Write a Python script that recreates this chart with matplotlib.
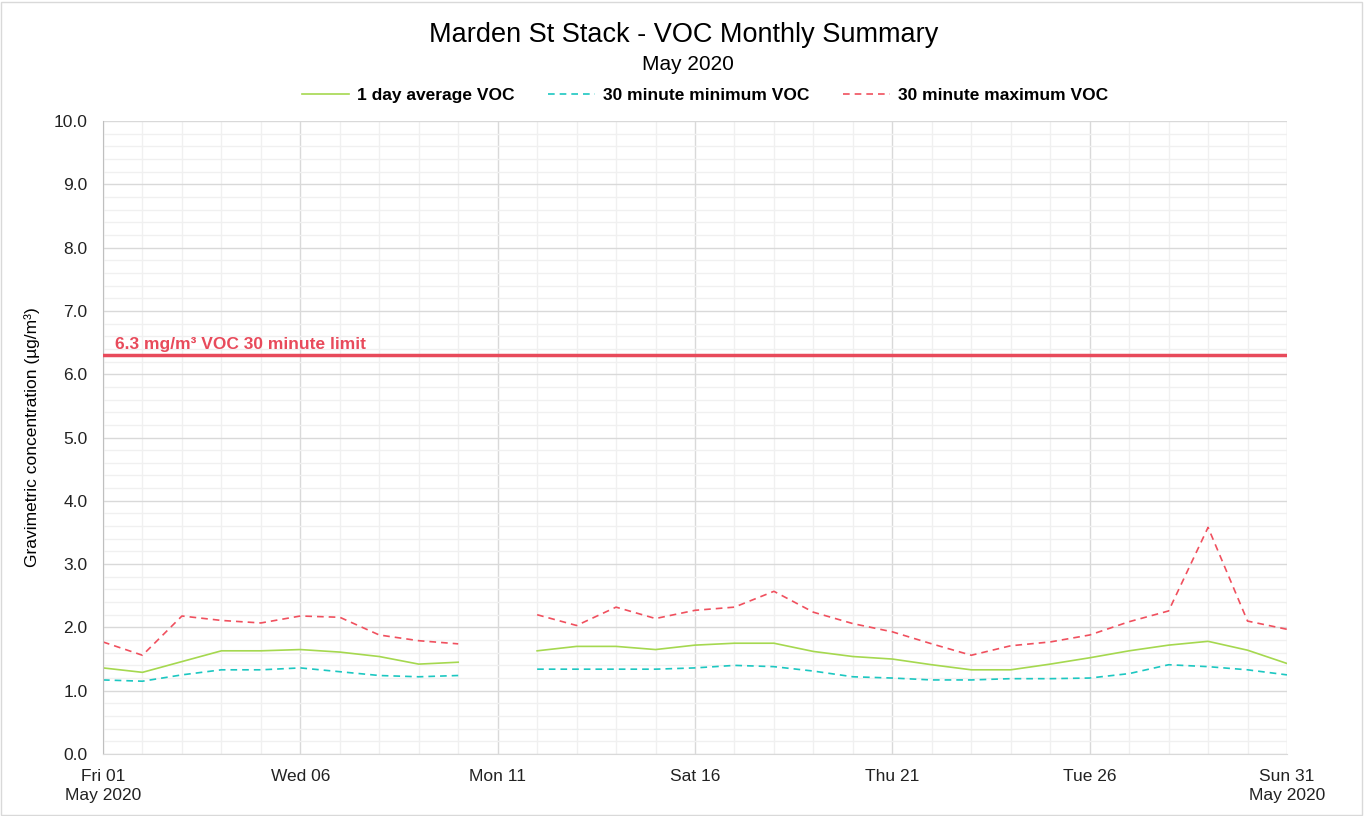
import matplotlib.pyplot as plt
import numpy as np

plt.rcParams['font.family'] = ['Liberation Sans', 'DejaVu Sans']

# days of May 2020, no reading on the 11th
days = np.arange(1, 32)
avg_voc = [1.36, 1.29, 1.46, 1.63, 1.63, 1.65, 1.61, 1.54, 1.42, 1.45, np.nan,
           1.63, 1.70, 1.70, 1.65, 1.72, 1.75, 1.75, 1.62, 1.54, 1.50,
           1.41, 1.33, 1.33, 1.42, 1.52, 1.63, 1.72, 1.78, 1.64, 1.43]
min_voc = [1.17, 1.15, 1.25, 1.33, 1.33, 1.36, 1.30, 1.24, 1.22, 1.24, np.nan,
           1.34, 1.34, 1.34, 1.34, 1.36, 1.40, 1.38, 1.31, 1.22, 1.20,
           1.17, 1.17, 1.19, 1.19, 1.20, 1.27, 1.41, 1.38, 1.33, 1.25]
max_voc = [1.77, 1.56, 2.18, 2.11, 2.07, 2.18, 2.16, 1.88, 1.79, 1.74, np.nan,
           2.20, 2.03, 2.32, 2.14, 2.27, 2.32, 2.57, 2.24, 2.06, 1.93,
           1.74, 1.56, 1.71, 1.77, 1.88, 2.09, 2.26, 3.58, 2.10, 1.97]
limit = 6.3

tick_days = [1, 6, 11, 16, 21, 26, 31]
tick_labels = ['Fri 01\nMay 2020', 'Wed 06', 'Mon 11', 'Sat 16', 'Thu 21',
               'Tue 26', 'Sun 31\nMay 2020']

fig = plt.figure(figsize=(13.66, 8.16), dpi=100)
ax = fig.add_axes([103 / 1366, 62 / 816, 1184 / 1366, 633 / 816])

ax.plot(days, avg_voc, color='#a5d84f', lw=1.2, label='1 day average VOC')
ax.plot(days, min_voc, color='#1cc7c1', lw=1.2, ls=(0, (4, 3)), label='30 minute minimum VOC')
ax.plot(days, max_voc, color='#f0505e', lw=1.2, ls=(0, (4, 3)), label='30 minute maximum VOC')

ax.axhline(limit, color='#e84a5b', lw=2.5, zorder=3)
ax.text(1.3, limit + 0.05, '6.3 mg/m³ VOC 30 minute limit', color='#e84a5b',
        fontsize=12.5, fontweight='bold', va='bottom')

ax.set_xlim(1, 31)
ax.set_ylim(0, 10)
ax.set_xticks(tick_days)
ax.set_xticklabels(tick_labels, fontsize=12.5, color='#222222', linespacing=1.3)
ax.set_xticks(days, minor=True)
ax.set_yticks(np.arange(0, 10.1, 1))
ax.set_yticklabels([f'{v:.1f}' for v in np.arange(0, 10.1, 1)], fontsize=12.5, color='#222222')
ax.set_yticks(np.arange(0, 10.01, 0.2), minor=True)
ax.tick_params(axis='x', which='both', length=0, pad=11)
ax.tick_params(axis='y', which='both', length=0, pad=11)

ax.grid(which='major', color='#d9d9d9', lw=1)
ax.grid(which='minor', color='#f0f0f0', lw=1)
ax.set_axisbelow(True)
for side in ['top', 'right']:
    ax.spines[side].set_visible(False)
ax.spines['left'].set_color('#bfbfbf')
ax.spines['bottom'].set_color('#d9d9d9')

ax.set_ylabel('Gravimetric concentration (µg/m³)', fontsize=12.5, labelpad=10)

fig.text(684 / 1366, 1 - 35 / 816, 'Marden St Stack - VOC Monthly Summary',
         ha='center', va='center', fontsize=19.5)
fig.text(688 / 1366, 1 - 65 / 816, 'May 2020', ha='center', va='center', fontsize=15)

leg = fig.legend(loc='center', bbox_to_anchor=(705 / 1366, 1 - 95 / 816), ncol=3,
                 frameon=False, prop={'weight': 'bold', 'size': 12.5},
                 handlelength=2.7, handletextpad=0.5, columnspacing=1.9)

fig.patches.append(plt.Rectangle((0.001, 0.001), 0.996, 0.997, transform=fig.transFigure,
                                 fill=False, edgecolor='#d9d9d9', lw=1))

fig.savefig('out.png', dpi=100)
